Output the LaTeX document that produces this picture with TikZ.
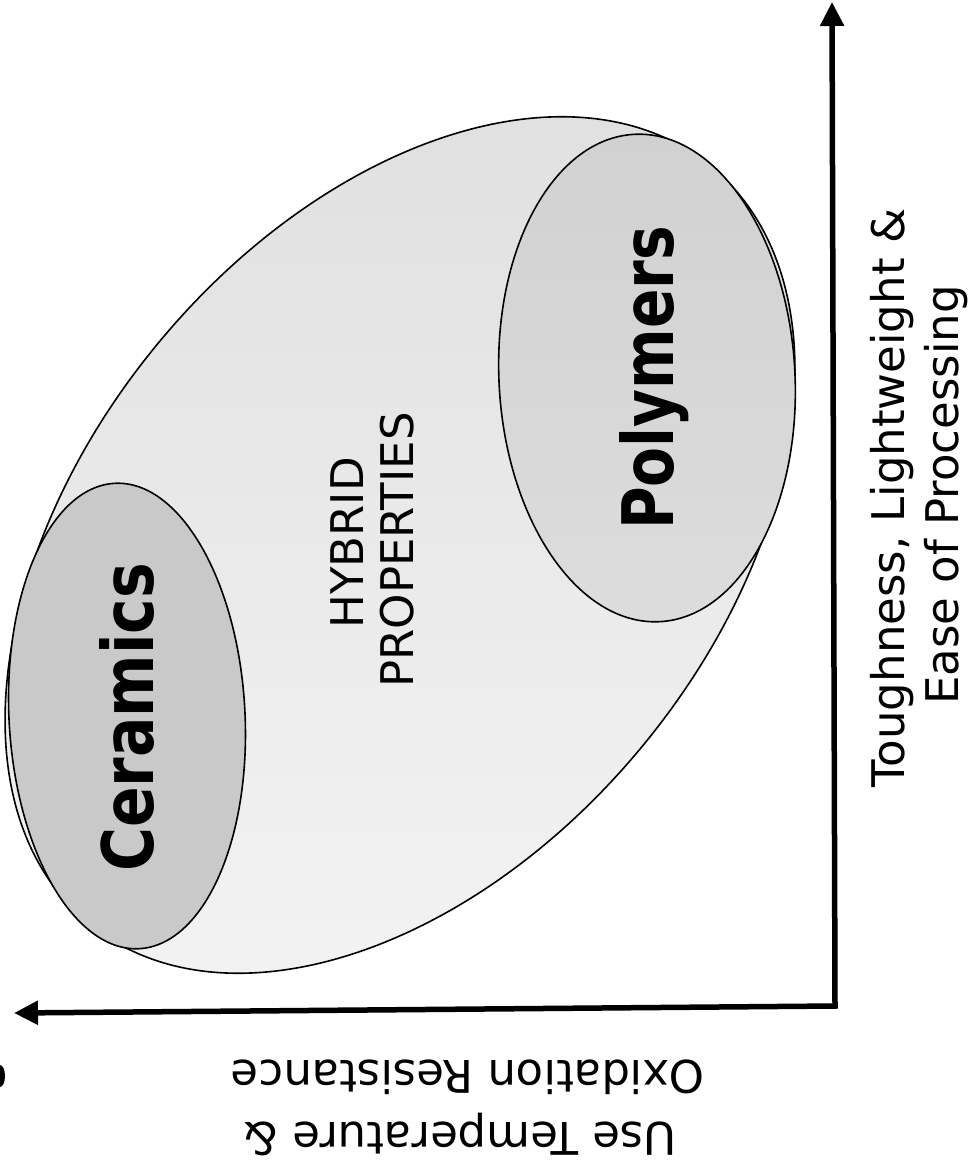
\documentclass[tikz,border=0pt]{standalone}
\usepackage{fontspec}
\usepackage{graphicx}
\setmainfont{DejaVu Sans}
\usetikzlibrary{shapes.geometric,arrows.meta}
\begin{document}
\begin{tikzpicture}[x=1pt,y=-1pt,
  region/.style={ellipse, draw=black, line width=1.6pt, inner sep=0pt},
  lbl/.style={inner sep=0pt, font=\fontsize{45}{54}\selectfont},
  axisline/.style={line width=5.5pt, line join=miter,
    {Triangle[length=24pt,width=23pt]}-{Triangle[length=24pt,width=23pt]}},
]
\fill[white] (0,0) rectangle (969,1161);
\useasboundingbox (0,0) rectangle (969,1161);
% regions
\node[region, top color=gray!25, bottom color=gray!10, minimum width=980pt, minimum height=630pt, rotate=50.6] (hybrid) at (400,545) {};
\node[region, fill=gray!42, minimum width=236pt, minimum height=466pt, rotate=3] (cer) at (127,716) {};
\node[region, top color=gray!36, bottom color=gray!27, minimum width=296pt, minimum height=488pt, rotate=3] (poly) at (647,378) {};
% labels
\node[lbl, rotate=90, anchor=base west] (certxt) at (153,872) {\resizebox{309pt}{54pt}{\bfseries Ceramics}};
\node[lbl, rotate=90, anchor=base west] (polytxt) at (673,530) {\resizebox{304pt}{54pt}{\bfseries Polymers}};
\node[lbl, rotate=90, anchor=base] (hyb1) at (363,543) {HYBRID};
\node[lbl, rotate=90, anchor=base] (hyb2) at (413,550) {PROPERTIES};
\node[lbl, rotate=90, anchor=base] (ylab1) at (904,498) {Toughness, Lightweight \&};
\node[lbl, rotate=90, anchor=base] (ylab2) at (958,495) {Ease of Processing};
\node[lbl, rotate=180, anchor=base] (xlab1) at (460,1122) {Use Temperature \&};
\node[lbl, rotate=180, anchor=base] (xlab2) at (468,1060) {Oxidation Resistance};
% cut-off mark at the left edge
\fill[black] (0,1076) ellipse [x radius=5, y radius=11];
% axes
\coordinate (corner) at (835,1006);
\coordinate (ytip) at (832,2);
\coordinate (xtip) at (14,1013);
\draw[axisline] (xtip) -- (corner) -- (ytip);
\end{tikzpicture}
\end{document}
